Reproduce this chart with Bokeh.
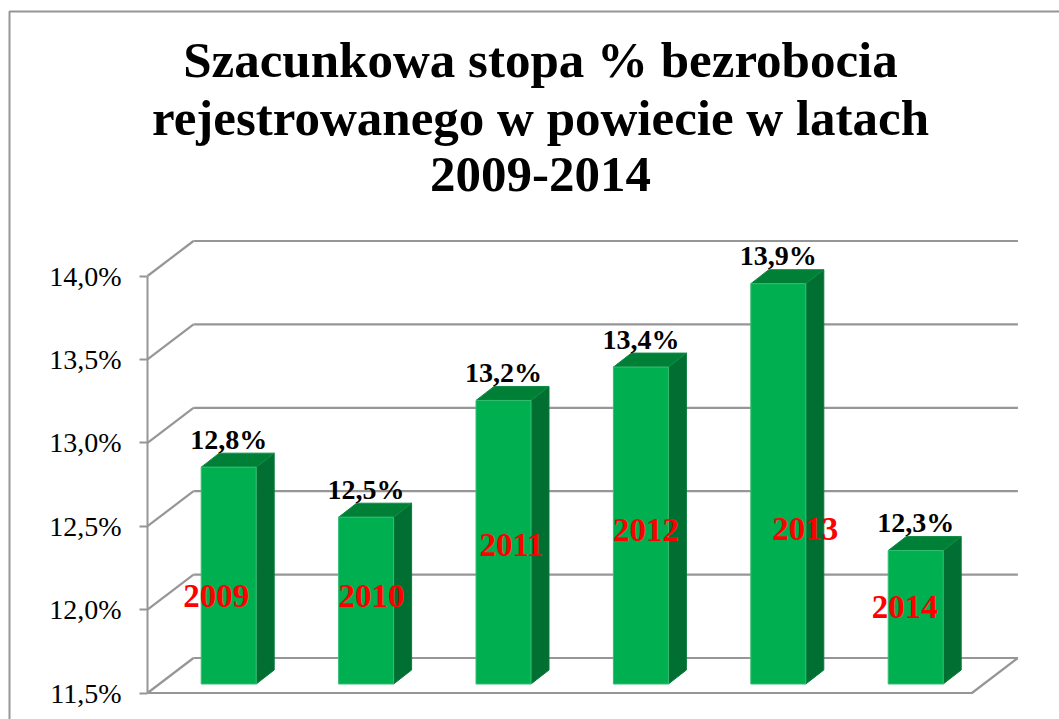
from bokeh.plotting import figure
from bokeh.embed import file_html
from bokeh.resources import INLINE
from bokeh.models import Range1d, BoxAnnotation, ColumnDataSource, FixedTicker
from bokeh.core.properties import value

# ---- data ----
years = ["2009", "2010", "2011", "2012", "2013", "2014"]
rates = [12.8, 12.5, 13.2, 13.4, 13.9, 12.3]
rate_labels = ["12,8%", "12,5%", "13,2%", "13,4%", "13,9%", "12,3%"]
tick_values = [11.5, 12.0, 12.5, 13.0, 13.5, 14.0]
tick_labels = ["11,5%", "12,0%", "12,5%", "13,0%", "13,5%", "14,0%"]
title_lines = ["Szacunkowa stopa % bezrobocia",
               "rejestrowanego w powiecie w latach",
               "2009-2014"]

# ---- manual placement of the year labels (px from bar centre, value on the axis) ----
year_dx_px = [-12.5, 5.5, 8, 5, 27, -11]
year_label_y = [12.08, 12.08, 12.385, 12.475, 12.485, 12.015]

# ---- layout ----
W, H = 1059, 719
AXIS_PX, FLOOR_PY = 147, 692.5      # canvas px of category 0 and of value 11.5
PX_PER_CAT, PX_PER_UNIT = 137.4, 166.8
GREY = "#969696"
SERIF = "Liberation Serif"


def y_of_px(py):
    return 11.5 + (FLOOR_PY - py) / PX_PER_UNIT


def x_of_px(px):
    return (px - AXIS_PX) / PX_PER_CAT


p = figure(width=W, height=H, output_backend="svg", toolbar_location=None,
           x_range=Range1d(x_of_px(0), x_of_px(W)), y_range=Range1d(y_of_px(H), y_of_px(0)),
           x_axis_location=None, y_axis_location="left",
           min_border=0, outline_line_color=None, background_fill_color=None, border_fill_color="white")
p.grid.visible = False

# outer chart border
p.add_layout(BoxAnnotation(left=9, right=1070, top=11, bottom=730,
                           left_units="canvas", right_units="canvas", top_units="canvas", bottom_units="canvas",
                           fill_color=None, line_color=GREY, line_alpha=1.0, line_width=2, level="underlay"))

# y axis, sitting inside the frame at category 0
ax = p.yaxis[0]
ax.fixed_location = 0
ax.ticker = FixedTicker(ticks=tick_values)
ax.major_label_overrides = dict(zip(tick_values, tick_labels))
ax.bounds = (11.5, 14.0)
ax.axis_line_color = GREY
ax.axis_line_width = 2
ax.major_tick_line_color = GREY
ax.major_tick_line_width = 2
ax.major_tick_out = 8
ax.major_tick_in = 0
ax.minor_tick_line_color = None
ax.major_label_standoff = 18
ax.major_label_text_font = SERIF
ax.major_label_text_font_size = "28px"
ax.major_label_text_color = "black"

# title
p.text(x=[x_of_px(540)] * 3, y=[y_of_px(59), y_of_px(117), y_of_px(174)], text=title_lines,
       text_align="center", text_baseline="alphabetic",
       text_font=value(SERIF), text_font_size="51px", text_font_style="bold", text_color="black")

# 3D depth of the walls and of the bars, in data units
WALL_DX, WALL_DY = 46 / PX_PER_CAT, 35 / PX_PER_UNIT
BAR_DX, BAR_DY = 18 / PX_PER_CAT, 14 / PX_PER_UNIT
CATS = len(years)

# back-wall gridlines and their slanted side connectors
p.segment(x0=[WALL_DX] * len(tick_values), x1=[CATS + WALL_DX] * len(tick_values),
          y0=[t + WALL_DY for t in tick_values], y1=[t + WALL_DY for t in tick_values],
          line_color=GREY, line_width=2.2)
p.segment(x0=[0] * len(tick_values), x1=[WALL_DX] * len(tick_values),
          y0=tick_values, y1=[t + WALL_DY for t in tick_values],
          line_color=GREY, line_width=2.2)
# floor
p.line(x=[0, CATS, CATS + WALL_DX], y=[11.5, 11.5, 11.5 + WALL_DY], line_color=GREY, line_width=2.2)

# bars stand on a plane set back from the front edge of the floor
LIFT = 9 / PX_PER_UNIT
BASE = 11.5 + LIFT
tops = [v + LIFT for v in rates]
BAR_W = 55 / PX_PER_CAT
centres = [i + 0.5 + 12.5 / PX_PER_CAT for i in range(CATS)]
lefts = [c - BAR_W / 2 for c in centres]
rights = [c + BAR_W / 2 for c in centres]
EDGE = "#35BE72"
p.patches(xs=[[r, r + BAR_DX, r + BAR_DX, r] for r in rights],
          ys=[[BASE, BASE + BAR_DY, t + BAR_DY, t] for t in tops],
          fill_color="#006F31", line_color="#0A7A3C", line_width=1)
p.patches(xs=[[l, r, r + BAR_DX, l + BAR_DX] for l, r in zip(lefts, rights)],
          ys=[[t, t, t + BAR_DY, t + BAR_DY] for t in tops],
          fill_color="#008037", line_color="#0E8C45", line_width=1)
p.vbar(x=centres, width=BAR_W, bottom=BASE, top=tops, fill_color="#00B050", line_color=EDGE, line_width=1)

# value labels
src = ColumnDataSource(dict(x=centres, y=tops, t=rate_labels))
p.text(x="x", y="y", text="t", source=src, text_align="center", text_baseline="middle",
       y_offset=-28, text_font=value(SERIF), text_font_size="28px", text_font_style="bold", text_color="black")

# year labels in red
yx = [c + d / PX_PER_CAT for c, d in zip(centres, year_dx_px)]
src2 = ColumnDataSource(dict(x=yx, y=year_label_y, t=years))
p.text(x="x", y="y", text="t", source=src2, text_align="center", text_baseline="middle",
       text_font=value(SERIF), text_font_size="33px", text_font_style="bold", text_color="#FF0000")

open("out.html", "w").write(file_html(p, INLINE))
